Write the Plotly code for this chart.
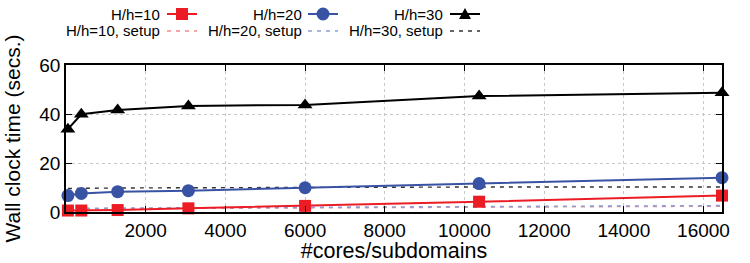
import plotly.graph_objects as go

cores = [48, 384, 1296, 3072, 6000, 10368, 16464]
t10 = [0.6, 0.6, 0.8, 1.5, 2.5, 4.2, 6.7]
t20 = [6.7, 7.6, 8.3, 8.7, 9.9, 11.6, 14.0]
t30 = [33.8, 39.9, 41.6, 43.3, 43.7, 47.3, 48.7]
s10 = [1.2, 1.3, 1.4, 1.5, 1.7, 2.0, 2.4]
s20 = [1.5, 1.5, 1.6, 1.7, 1.9, 2.2, 2.6]
s30 = [9.6, 9.7, 9.8, 9.9, 10.1, 10.2, 10.2]
xticks = [2000, 4000, 6000, 8000, 10000, 12000, 14000, 16000]
yticks = [0, 20, 40, 60]

RED = "#ec1c24"
BLUE = "#3953a4"
BLACK = "#000000"
RED_L = "#f28b8b"
BLUE_L = "#8e9fd6"
GRAY = "#333333"

W, H = 750, 263
L, R, T, B = 66, 28, 65, 51
pw, ph = W - L - R, H - T - B

def px(x):
    return (x - L) / pw

def py(y):
    return (H - B - y) / ph

FONT = "Liberation Sans, Arial, Helvetica, sans-serif"
LEG_FS = 15

fig = go.Figure()
# setup (dashed) lines first
fig.add_trace(go.Scatter(x=cores, y=s10, mode="lines", line=dict(color=RED_L, width=1.6, dash="4px,5px"), showlegend=False))
fig.add_trace(go.Scatter(x=cores, y=s20, mode="lines", line=dict(color=BLUE_L, width=1.6, dash="4px,5px"), showlegend=False))
fig.add_trace(go.Scatter(x=cores, y=s30, mode="lines", line=dict(color=GRAY, width=1.4, dash="4px,5px"), showlegend=False))
# main lines
fig.add_trace(go.Scatter(x=cores, y=t10, mode="lines+markers", line=dict(color=RED, width=2),
                         marker=dict(symbol="square", size=12, color=RED), showlegend=False, cliponaxis=False))
fig.add_trace(go.Scatter(x=cores, y=t20, mode="lines+markers", line=dict(color=BLUE, width=2),
                         marker=dict(symbol="circle", size=13, color=BLUE), showlegend=False, cliponaxis=False))
fig.add_trace(go.Scatter(x=cores, y=t30, mode="lines+markers", line=dict(color=BLACK, width=2),
                         marker=dict(symbol="triangle-up", size=13, color=BLACK), showlegend=False, cliponaxis=False))

# custom legend (text left of sample)
shapes = []
annotations = []
cols = [(160, 167, 197), (302, 308, 338), (443, 450, 480)]
names = ["H/h=10", "H/h=20", "H/h=30"]
main_cols = [RED, BLUE, BLACK]
setup_cols = [RED_L, BLUE_L, GRAY]
row1, row2 = 14, 31
for (tx, sx0, sx1), nm, mc, sc in zip(cols, names, main_cols, setup_cols):
    annotations.append(dict(x=px(tx), y=py(row1), xref="paper", yref="paper", text=nm, showarrow=False,
                            xanchor="right", yanchor="middle", xshift=2,
                            font=dict(size=LEG_FS, color="black", family=FONT)))
    annotations.append(dict(x=px(tx), y=py(row2), xref="paper", yref="paper", text=nm + ", setup", showarrow=False,
                            xanchor="right", yanchor="middle", xshift=2,
                            font=dict(size=LEG_FS, color="black", family=FONT)))
    shapes.append(dict(type="line", xref="paper", yref="paper", x0=px(sx0), x1=px(sx1), y0=py(row1), y1=py(row1),
                       line=dict(color=mc, width=2)))
    shapes.append(dict(type="line", xref="paper", yref="paper", x0=px(sx0), x1=px(sx1), y0=py(row2), y1=py(row2),
                       line=dict(color=sc, width=1.6, dash="4px,5px")))
    cx = (sx0 + sx1) / 2
    if nm == "H/h=10":
        shapes.append(dict(type="rect", xref="paper", yref="paper", x0=px(cx - 6), x1=px(cx + 6),
                           y0=py(row1 - 6), y1=py(row1 + 6), fillcolor=mc, line=dict(width=0)))
    elif nm == "H/h=20":
        shapes.append(dict(type="circle", xref="paper", yref="paper", x0=px(cx - 6.5), x1=px(cx + 6.5),
                           y0=py(row1 - 6.5), y1=py(row1 + 6.5), fillcolor=mc, line=dict(width=0)))
    else:
        path = "M {} {} L {} {} L {} {} Z".format(px(cx - 6), py(row1 + 5), px(cx + 6), py(row1 + 5), px(cx), py(row1 - 6))
        shapes.append(dict(type="path", xref="paper", yref="paper", path=path, fillcolor=mc, line=dict(width=0)))

fig.update_layout(
    width=W, height=H,
    margin=dict(l=L, r=R, t=T, b=B, autoexpand=False),
    paper_bgcolor="white", plot_bgcolor="white",
    font=dict(family=FONT, color="black"),
    shapes=shapes, annotations=annotations,
    showlegend=False,
)
fig.update_xaxes(range=[0, 16464], tickvals=xticks, ticktext=[str(v) for v in xticks],
                 showgrid=True, gridcolor="#c8c8c8", griddash="dot", gridwidth=1,
                 showline=True, linecolor="black", linewidth=1.5, mirror="allticks",
                 ticks="inside", ticklen=6, tickcolor="black", tickfont=dict(size=19), zeroline=False,
                 title=dict(text="#cores/subdomains", font=dict(size=21.5), standoff=7))
fig.update_yaxes(range=[0, 60], tickvals=yticks,
                 showgrid=True, gridcolor="#c8c8c8", griddash="dot", gridwidth=1,
                 showline=True, linecolor="black", linewidth=1.5, mirror="allticks",
                 ticks="inside", ticklen=6, tickcolor="black", tickfont=dict(size=19), zeroline=False,
                 title=dict(text="Wall clock time (secs.)", font=dict(size=21), standoff=13))

fig.write_html("out.html")
